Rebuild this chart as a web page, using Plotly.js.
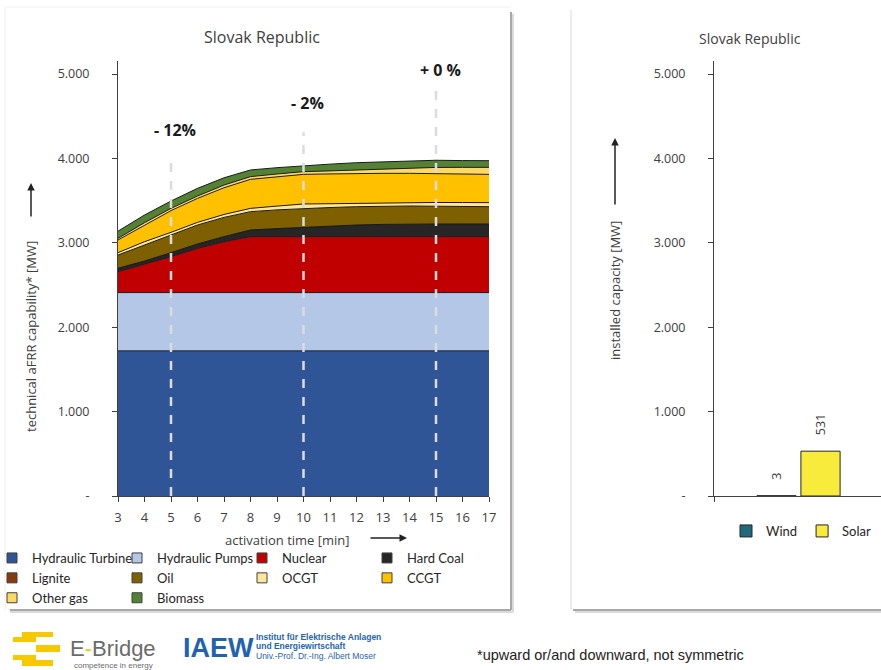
<!DOCTYPE html>
<html><head><meta charset="utf-8">
<script src="https://cdn.plot.ly/plotly-3.0.1.min.js"></script>
<style>
html,body{margin:0;padding:0;overflow:hidden;background:#fff;width:881px;height:670px;}
#left{position:absolute;left:0;top:0;width:1040px;height:670px;}
#right{position:absolute;left:560px;top:0;width:325px;height:620px;z-index:2;}
</style></head><body>
<div id="left"></div><div id="right"></div>
<script>
// ---------- data ----------
const minutes = [3,4,5,6,7,8,9,10,11,12,13,14,15,16,17];
const hydraulicTurbine = [1720,1720,1720,1720,1720,1720,1720,1720,1720,1720,1720,1720,1720,1720,1720];
const hydraulicPumps   = [690,690,690,690,690,690,690,690,690,690,690,690,690,690,690];
const nuclear          = [248,335,426,524,603,663,663,663,663,663,663,663,663,663,663];
const hardCoal         = [40,39,47,52,60,79,95,110,125,138,145,150,150,150,150];
const lignite          = [0,0,0,0,0,0,0,0,0,0,0,0,0,0,0];
const oil              = [157,190,209,225,228,217,222,225,220,217,215,213,210,207,205];
const ocgt             = [28,39,32,31,35,39,45,52,45,40,40,40,45,47,48];
const ccgt             = [150,198,257,284,316,344,348,351,353,355,350,347,340,337,335];
const otherGas         = [20,27,27,28,32,32,32,32,36,40,50,60,75,80,83];
const biomass          = [85,91,87,91,86,79,75,71,80,86,88,90,85,80,79];

const seriesNames  = ['Hydraulic Turbine','Hydraulic Pumps','Nuclear','Hard Coal','Lignite','Oil','OCGT','CCGT','Other gas','Biomass'];
const seriesValues = [hydraulicTurbine,hydraulicPumps,nuclear,hardCoal,lignite,oil,ocgt,ccgt,otherGas,biomass];
const seriesColors = ['#2F5597','#B4C7E7','#C00000','#262626','#843C0C','#7F6000','#FFE699','#FFC000','#FFD966','#548235'];

const yTickVals = [0,1000,2000,3000,4000,5000];
const yTickText = ['-','1.000','2.000','3.000','4.000','5.000'];

const markerMinutes = [5,10,15];
const markerLabels  = ['- 12%','- 2%','+ 0 %'];
const markerLineTop = [4050,4310,4810];
const markerLabelY  = [4336,4656,5047];

const resTypes    = ['Wind','Solar'];
const resCapacity = [3,531];
const resColors   = ['#1F6B7B','#F8EB3B'];
const resCategory = 'Slovak Republic';

// ---------- helpers ----------
const FONT = 'Open Sans, Noto Sans, sans-serif';
const NARROW = 'Liberation Sans Narrow, Liberation Sans, Arial, sans-serif';
const TXT = '#404040';
const LW = 520, LH = 670;
const px = X => X / LW;
const py = Y => 1 - Y / LH;

// ---------- left chart ----------
const leftTraces = [];
seriesNames.forEach((n,i)=>{
  leftTraces.push({
    x: minutes, y: seriesValues[i], name: n, stackgroup: 'one', mode: 'lines',
    line: {color: '#1a1a1a', width: 1}, fillcolor: seriesColors[i],
    showlegend: false, hoverinfo: 'skip'
  });
});
seriesNames.forEach((n,i)=>{
  leftTraces.push({
    x: [null], y: [null], name: n, mode: 'markers', type: 'scatter',
    marker: {symbol: 'square', size: 10, color: seriesColors[i], line: {color: '#404040', width: 1}},
    showlegend: true, hoverinfo: 'skip'
  });
});

const leftShapes = [];
markerMinutes.forEach((m,i)=>{
  leftShapes.push({type:'line', xref:'x', yref:'y', x0:m, x1:m, y0:0, y1:markerLineTop[i],
    line:{color:'#DCDCDC', width:2.5, dash:'dash'}, layer:'above'});
});
function pline(x0,y0,x1,y1,color,w){
  leftShapes.push({type:'line', xref:'paper', yref:'paper', x0:px(x0), x1:px(x1), y0:py(y0), y1:py(y1),
    line:{color:color, width:w}, layer:'below'});
}
// panel borders / shadows
pline(5,7,511,7,'#F0F0F0',1);
pline(5,7,5,610,'#F0F0F0',1);
pline(513,14,513,612,'#DADADA',2);
pline(511,12,511,610,'#A8A8A8',2);
pline(10,612,513,612,'#DADADA',2);
pline(10,610,511,610,'#A8A8A8',2);
pline(571,10,571,609,'#E4E4E4',1.5);
pline(575,612,881,612,'#DADADA',2);
pline(573,610,881,610,'#A8A8A8',2);
// E-Bridge logo blocks
function prect(x0,y0,x1,y1,color){
  leftShapes.push({type:'rect', xref:'paper', yref:'paper', x0:px(x0), x1:px(x1), y0:py(y1), y1:py(y0),
    fillcolor:color, line:{width:0}, layer:'above'});
}
const LOGOY = '#F5C800';
prect(22,632,53,637,LOGOY);
prect(13,637,36,642,LOGOY);
prect(36,645,60,652,LOGOY);
prect(13,655,36,660,LOGOY);
prect(22,660,53,666,LOGOY);

const leftAnn = [];
markerMinutes.forEach((m,i)=>{
  leftAnn.push({xref:'x', yref:'y', x:m, y:markerLabelY[i], text:'<b>'+markerLabels[i]+'</b>', showarrow:false,
    xanchor:'center', yanchor:'middle', xshift:4, font:{family:FONT, size:16, color:'#1a1a1a'}});
});
function pann(X,Y,text,opt){
  leftAnn.push(Object.assign({xref:'paper', yref:'paper', x:px(X), y:py(Y), text:text, showarrow:false,
    xanchor:'center', yanchor:'middle', font:{family:FONT, size:13, color:TXT}}, opt||{}));
}
pann(262,37,'Slovak Republic',{font:{family:FONT,size:16,color:TXT}});
pann(31,337,'technical aFRR capability* [MW]',{textangle:-90,font:{family:FONT,size:13,color:TXT}});
leftAnn.push({xref:'paper', yref:'paper', x:px(31), y:py(183), text:'', showarrow:true, ax:0, ay:35,
  arrowhead:2, arrowsize:1, arrowwidth:1.5, arrowcolor:'#222'});
pann(287,540,'activation time [min]',{font:{family:FONT,size:13,color:TXT}});
leftAnn.push({xref:'paper', yref:'paper', x:px(407), y:py(538), text:'', showarrow:true, ax:-38, ay:0,
  arrowhead:2, arrowsize:1, arrowwidth:1.5, arrowcolor:'#222'});
// footer
pann(68,648,'E<span style="color:#F5C800">-</span>Bridge',{xanchor:'left',font:{family:'Liberation Sans, Arial, sans-serif',size:22,color:'#6B6B6B'}});
pann(72,665,'competence in energy',{xanchor:'left',font:{family:'Liberation Sans, Arial, sans-serif',size:8,color:'#6B6B6B'}});
pann(181,648,'<b>IAEW</b>',{xanchor:'left',font:{family:NARROW,size:27,color:'#1F63B0'}});
pann(254,637,'<b>Institut für Elektrische Anlagen</b>',{xanchor:'left',font:{family:NARROW,size:8.5,color:'#1F63B0'}});
pann(254,646,'<b>und Energiewirtschaft</b>',{xanchor:'left',font:{family:NARROW,size:8.5,color:'#1F63B0'}});
pann(254,656,'Univ.-Prof. Dr.-Ing. Albert Moser',{xanchor:'left',font:{family:NARROW,size:8.5,color:'#1F63B0'}});
pann(475,655,'*upward or/and downward, not symmetric',{xanchor:'left',font:{family:NARROW,size:14.5,color:'#222'}});

const axisCommon = {showgrid:false, zeroline:false, showline:true, linecolor:'#404040', linewidth:1,
  ticks:'outside', ticklen:5, tickcolor:'#404040', fixedrange:true};

const leftLayout = {
  width: 1040, height: LH,
  margin: {l:0, r:520, t:0, b:0, pad:0, autoexpand:false},
  paper_bgcolor: '#fff', plot_bgcolor: 'rgba(0,0,0,0)',
  font: {family: FONT, color: TXT},
  showlegend: true,
  legend: {orientation:'h', x:-8/LW, xanchor:'left', y:py(543), yanchor:'top',
    entrywidth:80, entrywidthmode:'pixels', font:{family:'Lato, Open Sans, sans-serif', size:13, color:'#262626'},
    bgcolor:'rgba(0,0,0,0)', traceorder:'normal', itemclick:false},
  xaxis: Object.assign({}, axisCommon, {domain:[px(118), px(489)], range:[3,17], tickvals:minutes,
    tickfont:{family:FONT, size:13, color:TXT}, ticklabelstandoff:4}),
  yaxis: Object.assign({}, axisCommon, {domain:[py(496), py(61)], range:[0,5154], tickvals:yTickVals, ticktext:yTickText,
    tickfont:{family:FONT, size:12.5, color:TXT}, ticklabelstandoff:20}),
  shapes: leftShapes,
  annotations: leftAnn,
  hovermode: false
};

Plotly.newPlot('left', leftTraces, leftLayout, {staticPlot:true, displayModeBar:false});

// ---------- right chart ----------
const RW = 325, RH = 620;
const rx = X => (X - 560) / RW;
const ry = Y => 1 - Y / RH;
const barOffsets = [-22, 22];

const rightTraces = resTypes.map((n,i)=>({
  type:'bar', name:n, x:[resCategory], y:[resCapacity[i]],
  marker:{color:resColors[i], line:{color:'#262626', width:1}},
  hoverinfo:'skip'
}));

const rightAnn = [
  {xref:'paper', yref:'paper', x:rx(750), y:ry(39), text:'Slovak Republic', showarrow:false, xanchor:'center', yanchor:'middle', font:{family:FONT,size:14,color:TXT}},
  {xref:'paper', yref:'paper', x:rx(615), y:ry(291), text:'installed capacity [MW]', textangle:-90, showarrow:false, xanchor:'center', yanchor:'middle', font:{family:FONT,size:13,color:TXT}},
  {xref:'paper', yref:'paper', x:rx(615), y:ry(138), text:'', showarrow:true, ax:0, ay:68, arrowhead:2, arrowsize:1, arrowwidth:1.5, arrowcolor:'#222'}
];
resCapacity.forEach((v,i)=>{
  rightAnn.push({xref:'x', yref:'y', x:resCategory, y:v, text:String(v), textangle:-90, showarrow:false,
    xanchor:'center', yanchor:'bottom', xshift:barOffsets[i], yshift:14, font:{family:FONT,size:12.5,color:TXT}});
});

const rightLayout = {
  width: RW, height: RH,
  margin: {l:0, r:0, t:0, b:0, pad:0, autoexpand:false},
  paper_bgcolor:'rgba(0,0,0,0)', plot_bgcolor:'rgba(0,0,0,0)',
  font:{family:FONT, color:TXT},
  barmode:'group', bargap:0.479, bargroupgap:0.11,
  showlegend:true,
  legend:{orientation:'h', x:rx(726), xanchor:'left', y:ry(516), yanchor:'top',
    font:{family:'Lato, Open Sans, sans-serif', size:13, color:'#262626'}, bgcolor:'rgba(0,0,0,0)', itemclick:false},
  xaxis: Object.assign({}, axisCommon, {domain:[rx(714), rx(883)], type:'category', range:[-0.5,0.5],
    tickson:'boundaries', showticklabels:false}),
  yaxis: Object.assign({}, axisCommon, {domain:[ry(496), ry(61)], range:[0,5154], tickvals:yTickVals, ticktext:yTickText,
    tickfont:{family:FONT, size:12.5, color:TXT}, ticklabelstandoff:20}),
  annotations: rightAnn,
  hovermode:false
};

Plotly.newPlot('right', rightTraces, rightLayout, {staticPlot:true, displayModeBar:false});
</script>
</body></html>
